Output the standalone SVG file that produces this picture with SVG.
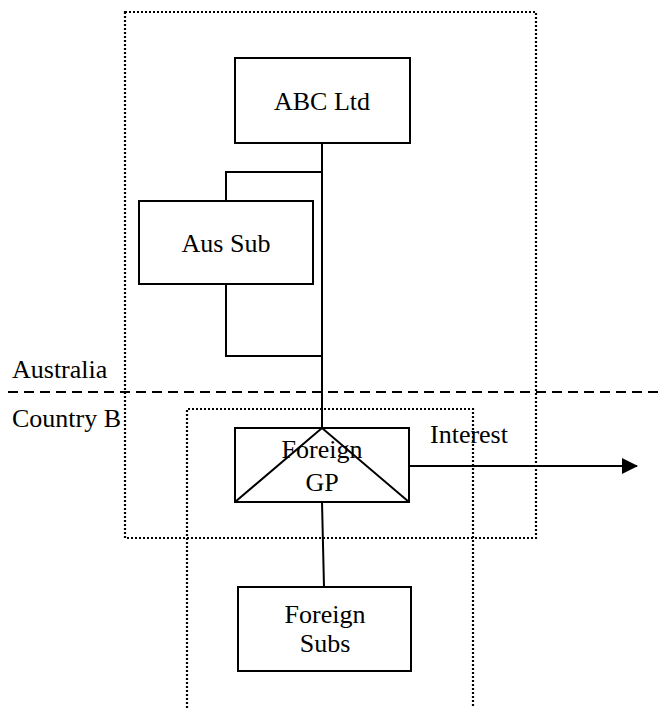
<svg xmlns="http://www.w3.org/2000/svg" width="661" height="708" viewBox="0 0 661 708">
<defs>
<style>
.box{fill:#fff;stroke:#000;stroke-width:2}
.ln{fill:none;stroke:#000;stroke-width:2}
.dot{fill:none;stroke:#000;stroke-width:2.2;stroke-dasharray:2 2}
.dash{fill:none;stroke:#000;stroke-width:2;stroke-dasharray:10 6}
text{font-family:"Liberation Serif","Times New Roman",serif;font-size:26px;fill:#000}
.c{text-anchor:middle}
</style>
<marker id="arr" markerWidth="16" markerHeight="16" refX="15" refY="8" orient="auto" markerUnits="userSpaceOnUse">
<path d="M0,0 L16,8 L0,16 Z" fill="#000"/>
</marker>
</defs>
<rect width="661" height="708" fill="#fff"/>
<g id="regions">
<rect class="dot" x="125" y="12" width="411" height="526"/>
<path class="dot" d="M187,708 V409 H473 V708"/>
<line class="dash" x1="8" y1="392" x2="661" y2="392"/>
<text x="12" y="378">Australia</text>
<text x="12" y="427">Country B</text>
</g>
<g id="connectors">
<path class="ln" d="M322,143 V428"/>
<path class="ln" d="M322,172 H226 V201"/>
<path class="ln" d="M226,284 V356 H322"/>
<path class="ln" d="M322,502 L324,587"/>
<line class="ln" x1="409" y1="466" x2="637" y2="466" marker-end="url(#arr)"/>
<text x="430" y="443">Interest</text>
</g>
<g id="abc">
<rect class="box" x="235" y="58" width="175" height="85"/>
<text class="c" x="322" y="110">ABC Ltd</text>
</g>
<g id="aussub">
<rect class="box" x="139" y="201" width="174" height="83"/>
<text class="c" x="226" y="252">Aus Sub</text>
</g>
<g id="foreigngp">
<rect class="box" x="235" y="428" width="174" height="74"/>
<path class="ln" d="M235,502 L322,428 L409,502"/>
<text class="c" x="322" y="458">Foreign</text>
<text class="c" x="322" y="491">GP</text>
</g>
<g id="foreignsubs">
<rect class="box" x="238" y="587" width="173" height="84"/>
<text class="c" x="325" y="623">Foreign</text>
<text class="c" x="325" y="652">Subs</text>
</g>
</svg>
